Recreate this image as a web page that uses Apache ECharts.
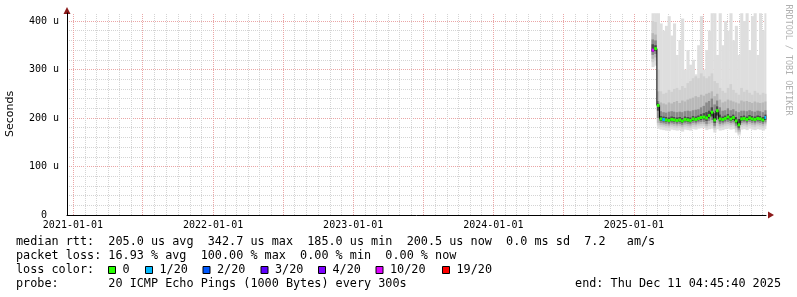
<!DOCTYPE html>
<html><head><meta charset="utf-8">
<script src="https://cdn.jsdelivr.net/npm/echarts@6/dist/echarts.min.js"></script>
<style>html,body{margin:0;padding:0;background:#fff}#c{width:797px;height:297px}</style>
</head><body><div id="c"></div>
<script>
// ---- data ----
const axisStart = Date.UTC(2020, 11, 16, 12, 0, 0);
const axisEnd = Date.UTC(2025, 11, 11, 4, 45, 40);
const firstSample = Date.UTC(2025, 1, 16);
const sampleDays = 7;
const yTickStep = 20;
const yLabelStep = 100;
const xLabelDates = ['2021-01-01', '2022-01-01', '2023-01-01', '2024-01-01', '2025-01-01'];
// smoke layers (microseconds): outer max/min, then inner quantiles
const maxPing = [416,416,416,395,380,390,410,370,395,330,360,405,300,340,310,320,290,350,410,300,340,380,416,416,330,416,350,400,380,416,360,390,330,416,400,416,340,410,416,330,416,380,416];
const hi2 = [400,398,300,255,250,252,258,254,260,262,258,266,262,272,276,282,286,282,292,286,282,286,292,276,272,262,256,252,262,270,258,252,248,262,254,258,252,248,256,252,248,252,250];
const hi3 = [375,372,255,232,230,228,232,230,233,235,231,236,234,238,240,242,245,243,248,246,250,252,255,245,250,238,232,234,238,236,234,232,230,236,234,235,233,231,234,232,231,232,234];
const hi4 = [362,360,235,214,212,211,213,214,213,212,213,212,214,215,214,216,217,218,222,225,232,235,240,228,236,222,215,216,220,216,218,214,212,215,215,214,216,214,213,215,214,212,216];
const hi5 = [352,350,230,204,203,202,201,203,202,201,202,200,203,202,201,204,203,205,208,210,212,215,222,210,224,207,203,205,208,204,207,202,198,204,205,203,206,204,203,205,204,202,207];
const medianRtt = [340,343,226,198,197,196,195,197,196,195,196,194,197,196,195,198,197,199,201,202,200,205,212,196,215,198,197,199,202,198,201,194,186,198,199,197,200,198,197,199,198,196,201];
const lo5 = [336,338,215,194,193,192,191,193,192,191,192,190,193,192,191,194,193,195,196,197,194,199,203,190,205,193,193,195,197,194,196,189,180,194,195,193,196,194,193,195,194,192,196];
const lo4 = [330,332,200,190,189,188,187,189,188,187,188,186,189,188,187,190,189,191,192,192,188,194,196,184,197,188,189,191,192,190,191,184,176,190,191,189,192,190,189,191,190,188,191];
const lo3 = [322,325,190,186,185,184,183,185,184,183,184,182,185,184,183,186,185,187,188,188,184,188,190,180,190,184,185,187,188,186,187,180,172,186,187,185,188,186,185,187,186,184,187];
const lo2 = [315,318,185,182,181,180,179,181,180,179,180,178,181,180,179,182,181,183,184,184,180,183,185,176,184,180,181,183,184,182,183,176,168,182,183,181,184,182,181,183,182,180,183];
const minPing = [305,308,178,176,175,174,173,176,175,174,175,172,176,175,174,177,176,178,179,179,175,177,178,170,177,174,175,177,178,176,177,170,164,176,177,175,178,176,175,177,176,174,177];
const lossBucket = [5,0,0,0,1,0,0,0,0,0,0,0,0,0,0,0,0,0,0,0,0,0,0,0,0,0,0,0,0,0,0,0,0,0,0,0,0,0,0,0,0,0,1];
const lossColors = ['#26ff00', '#00b8ff', '#0059ff', '#5e00ff', '#7e00ff', '#dd00ff', '#ff0000'];
const lossLabels = ['0', '1/20', '2/20', '3/20', '4/20', '10/20', '19/20'];
const statLines = [
  'median rtt:  205.0 us avg  342.7 us max  185.0 us min  200.5 us now  0.0 ms sd  7.2   am/s',
  'packet loss: 16.93 % avg  100.00 % max  0.00 % min  0.00 % now',
  'loss color:',
  'probe:       20 ICMP Echo Pings (1000 Bytes) every 300s'
];
const endText = 'end: Thu Dec 11 04:45:40 2025';

// ---- build ----
const DAY = 86400000;
const smokeData = medianRtt.map((m, i) => {
  const t0 = firstSample + i * sampleDays * DAY;
  const t1 = Math.min(t0 + sampleDays * DAY, axisEnd);
  return [t0, t1, maxPing[i], hi2[i], hi3[i], hi4[i], hi5[i], m, lo5[i], lo4[i], lo3[i], lo2[i], minPing[i], lossBucket[i]];
});
const medianLine = smokeData.map(d => [d[0], d[7]]);
medianLine.push([smokeData[smokeData.length - 1][1], medianRtt[medianRtt.length - 1]]);

// vertical grid: month starts (minor) and half-year starts (major)
const vGrid = [];
for (let y = 2020; y <= 2025; y++) {
  for (let m = 0; m < 12; m++) {
    const t = Date.UTC(y, m, 1);
    if (t > axisStart && t < axisEnd) vGrid.push([t, (m % 6 === 0) ? 1 : 0]);
  }
}
vGrid.sort((a, b) => a[1] - b[1]);
const xLabelValues = xLabelDates.map(s => Date.parse(s + 'T00:00:00Z'));
const Y_MAX = 416.5;
const MAJOR = '#eaa6a6', MINOR = '#d4d4d4';
const mono = 'DejaVu Sans Mono';
function fmtDate(v) {
  const d = new Date(v);
  const p = n => String(n).padStart(2, '0');
  return d.getUTCFullYear() + '-' + p(d.getUTCMonth() + 1) + '-' + p(d.getUTCDate());
}

const chart = echarts.init(document.getElementById('c'), null, {renderer: 'canvas'});
const graphics = [];
statLines.forEach((s, i) => {
  graphics.push({type: 'text', x: 16, y: 241.5 + i * 14, style: {text: s, font: '11.8px "' + mono + '"', fill: '#000', textAlign: 'left', textVerticalAlign: 'middle'}});
});
graphics.push({type: 'text', x: 781, y: 283.5, style: {text: endText, font: '11.8px "' + mono + '"', fill: '#000', textAlign: 'right', textVerticalAlign: 'middle'}});
const sqX = [108, 145, 202.5, 260.5, 318, 375.5, 442];
lossLabels.forEach((l, i) => {
  graphics.push({type: 'rect', shape: {x: sqX[i] + 0.5, y: 266.5, width: 7, height: 7}, style: {fill: lossColors[i], stroke: '#000', lineWidth: 1}});
  graphics.push({type: 'text', x: sqX[i] + 14.5, y: 269.8, style: {text: l, font: '11.8px "' + mono + '"', fill: '#000', textAlign: 'left', textVerticalAlign: 'middle'}});
});
graphics.push({type: 'text', x: 788, y: 60, rotation: -Math.PI / 2, style: {text: 'RRDTOOL / TOBI OETIKER', font: '8.4px "' + mono + '"', fill: '#b0b0b0', textAlign: 'center', textVerticalAlign: 'middle'}});
// axis arrows
graphics.push({type: 'polygon', shape: {points: [[63.5, 14], [70.5, 14], [67, 7]]}, style: {fill: '#8b1a1a'}});
graphics.push({type: 'polygon', shape: {points: [[768, 211.5], [768, 218.5], [774, 215]]}, style: {fill: '#8b1a1a'}});

chart.setOption({
  animation: false,
  backgroundColor: '#fff',
  grid: {left: 67, right: 31, top: 13, bottom: 82, containLabel: false, outerBoundsMode: 'none'},
  xAxis: {
    type: 'value', min: axisStart, max: axisEnd,
    axisLine: {show: true, onZero: false, lineStyle: {color: '#000', width: 1}},
    axisTick: {show: false},
    splitLine: {show: false},
    axisLabel: {
      customValues: xLabelValues,
      formatter: v => fmtDate(v),
      fontFamily: mono, fontSize: 10, color: '#000', margin: 5
    }
  },
  yAxis: {
    type: 'value', min: 0, max: Y_MAX, interval: yTickStep,
    name: 'Seconds', nameLocation: 'middle', nameRotate: 90, nameGap: 51,
    nameTextStyle: {fontFamily: 'DejaVu Sans', fontSize: 11, color: '#000'},
    axisLine: {show: true, lineStyle: {color: '#000', width: 1}},
    axisTick: {show: false},
    axisLabel: {
      fontFamily: mono, fontSize: 10, color: '#000', margin: 8,
      formatter: v => (v % yLabelStep !== 0) ? '' : (v === 0 ? '0  ' : (v + ' u'))
    },
    splitLine: {show: true, showMinLine: true, showMaxLine: false, lineStyle: {color: [MAJOR, MINOR, MINOR, MINOR, MINOR], type: [1, 1], width: 1}}
  },
  graphic: graphics,
  series: [
    {
      type: 'custom', name: 'vgrid', z: 1, silent: true,
      data: vGrid,
      encode: {x: 0},
      renderItem: (params, api) => {
        const t = api.value(0);
        const p0 = api.coord([t, 0]);
        const p1 = api.coord([t, Y_MAX]);
        const x = Math.round(p0[0]) + 0.5;
        return {type: 'line', shape: {x1: x, y1: p0[1], x2: x, y2: p1[1]},
          style: {stroke: api.value(1) ? MAJOR : MINOR, lineWidth: 1, lineDash: [1, 1]}};
      }
    },
    {
      type: 'custom', name: 'smoke', z: 2, silent: true,
      data: smokeData,
      encode: {x: [0, 1], y: [2, 12]},
      renderItem: (params, api) => {
        const t0 = api.value(0), t1 = api.value(1);
        const layers = [[12, 2, '#dedede'], [11, 3, '#d0d0d0'], [10, 4, '#b8b8b8'], [9, 5, '#8a8a8a'], [8, 6, '#4a4a4a']];
        const children = layers.map(([lo, hi, c]) => {
          const a = api.coord([t0, api.value(hi)]);
          const b = api.coord([t1, api.value(lo)]);
          return {type: 'rect', shape: {x: a[0], y: a[1], width: b[0] - a[0] + 0.4, height: b[1] - a[1]}, style: {fill: c}};
        });
        return {type: 'group', children};
      }
    },
    {
      type: 'line', name: 'median', z: 3, step: 'end', symbol: 'none', silent: true,
      data: medianLine,
      lineStyle: {color: '#000', width: 1}
    },
    {
      type: 'custom', name: 'loss', z: 4, silent: true,
      data: smokeData,
      encode: {x: [0, 1], y: 7},
      renderItem: (params, api) => {
        const a = api.coord([api.value(0), api.value(7)]);
        const b = api.coord([api.value(1), api.value(7)]);
        return {type: 'rect', shape: {x: a[0], y: a[1] - 1.5, width: b[0] - a[0], height: 3},
          style: {fill: lossColors[api.value(13)]}};
      }
    }
  ]
});
</script></body></html>
